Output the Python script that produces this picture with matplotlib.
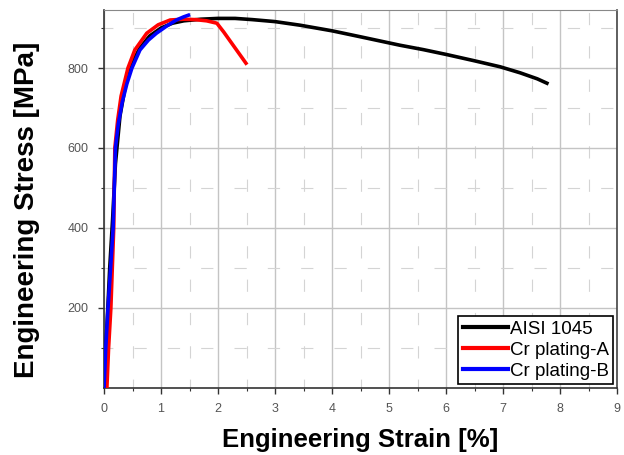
import matplotlib
matplotlib.use("Agg")
import matplotlib.pyplot as plt
from matplotlib.ticker import MultipleLocator, FixedLocator
import numpy as np

plt.rcParams['font.family'] = ['Liberation Sans', 'DejaVu Sans']

# data (strain %, stress MPa)
aisi_strain = [0.0, 0.05, 0.10, 0.15, 0.20, 0.28, 0.40, 0.50, 0.63, 0.80, 1.00, 1.20, 1.40,
               1.70, 2.00, 2.30, 2.60, 3.00, 3.44, 4.00, 4.50, 5.19, 5.60, 6.00, 6.50,
               6.95, 7.30, 7.60, 7.77]
aisi_stress = [0, 150, 300, 420, 560, 680, 775, 815, 850, 880, 900, 912, 918,
               922, 924, 924, 921, 916, 907, 893, 878, 857, 846, 834, 818,
               803, 788, 773, 762]

cra_strain = [0.05, 0.08, 0.12, 0.17, 0.19, 0.24, 0.30, 0.42, 0.54, 0.75, 0.95, 1.16, 1.40,
              1.60, 1.80, 1.98, 2.10, 2.25, 2.39, 2.49]
cra_stress = [0, 100, 200, 400, 600, 670, 730, 800, 845, 887, 908, 920, 922,
              921, 918, 912, 890, 860, 832, 812]

crb_strain = [0.0, 0.03, 0.07, 0.16, 0.20, 0.25, 0.32, 0.40, 0.49, 0.63, 0.78, 0.92, 1.10,
              1.27, 1.40, 1.48]
crb_stress = [0, 100, 200, 400, 600, 660, 715, 760, 800, 845, 870, 887, 905,
              920, 928, 932]

labels = ['AISI 1045', 'Cr plating-A', 'Cr plating-B']

fig = plt.figure(figsize=(6.24, 4.55), dpi=100)
ax = fig.add_axes([0.1667, 0.1473, 0.8221, 0.8307])

ax.plot(aisi_strain, aisi_stress, color='black', lw=2.6, label=labels[0], zorder=3)
ax.plot(cra_strain, cra_stress, color='#ff0000', lw=2.6, label=labels[1], zorder=4)
ax.plot(crb_strain, crb_stress, color='#0000ff', lw=2.6, label=labels[2], zorder=5)

ax.set_xlim(0, 9)
ax.set_ylim(0, 945)
ax.xaxis.set_major_locator(MultipleLocator(1))
ax.xaxis.set_minor_locator(MultipleLocator(0.5))
ax.yaxis.set_major_locator(FixedLocator([200, 400, 600, 800]))
ax.yaxis.set_minor_locator(FixedLocator([100, 300, 500, 700, 900]))

ax.grid(which='major', color='#c4c4c4', lw=1.0, ls='-')
ax.grid(which='minor', color='#d4d4d4', lw=0.8, ls=(3, (11, 19)))
ax.set_axisbelow(True)

ax.tick_params(which='major', direction='out', length=4, width=1, color='#333333',
               labelsize=9, labelcolor='#555555', pad=7)
ax.tick_params(which='minor', direction='out', length=2.5, width=0.8, color='#333333')

for side in ['left', 'bottom']:
    ax.spines[side].set_color('#333333')
    ax.spines[side].set_linewidth(1.2)
ax.spines['top'].set_color('#888888')
ax.spines['right'].set_color('#444444')
ax.spines['right'].set_linewidth(1.2)

ax.set_xlabel('Engineering Strain [%]', fontsize=18.5, fontweight='bold')
ax.set_ylabel('Engineering Stress [MPa]', fontsize=20, fontweight='bold')
ax.xaxis.set_label_coords(0.5, -0.105)
ax.yaxis.set_label_coords(-0.125, 0.47)

leg = ax.legend(loc='lower right', fontsize=13.5, frameon=True, fancybox=False,
                edgecolor='black', framealpha=1, borderaxespad=0.2, handlelength=2.4,
                handletextpad=0.1, labelspacing=0.2, borderpad=0.25)
leg.get_frame().set_linewidth(1.2)
for line in leg.get_lines():
    line.set_linewidth(3)

fig.savefig('out.png', dpi=100)
